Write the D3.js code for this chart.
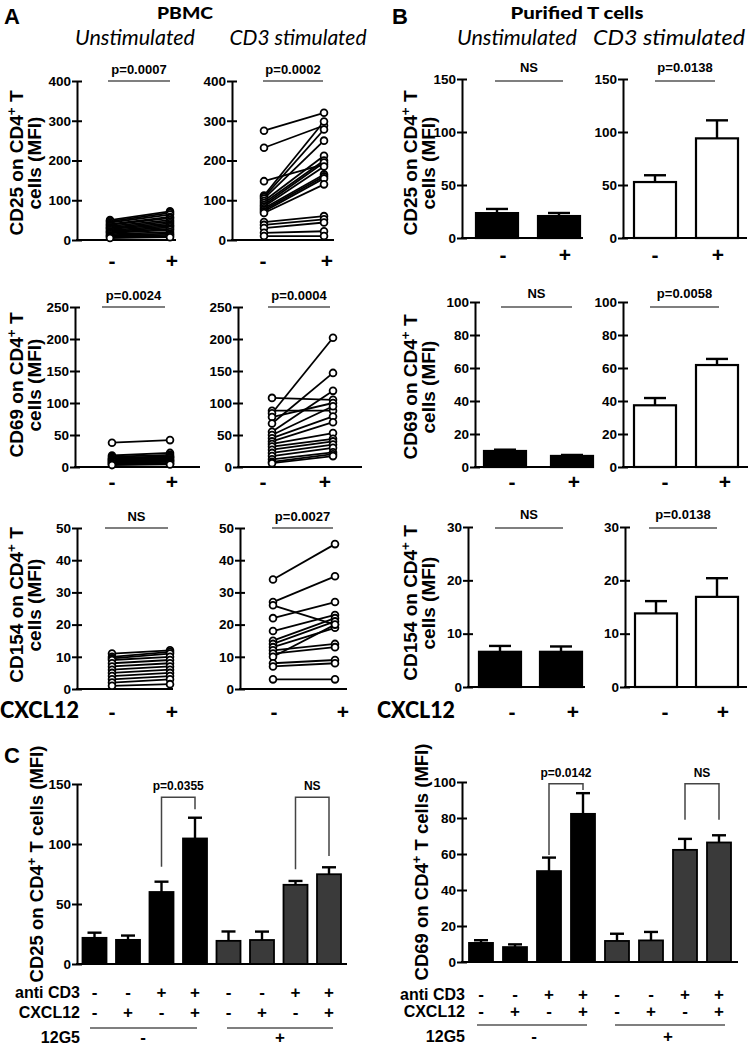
<!DOCTYPE html>
<html><head><meta charset="utf-8">
<script src="https://cdn.jsdelivr.net/npm/d3@7"></script>
<style>body{margin:0;background:#fff}svg{display:block}</style>
</head><body>
<script>
// ---------------- DATA ----------------
const signs = ["-", "+"];
// Panel A (PBMC) paired donor values, CXCL12 - / +
const cd25UnstimPre  = [50,47,44,40,38,35,32,30,28,25,22,20,18,15,12,10,8,5];
const cd25UnstimPost = [72,68,64,58,55,50,46,42,38,35,32,28,25,20,16,13,10,7];
const cd25StimPre    = [275,232,148,112,108,104,98,93,88,84,80,76,72,68,45,38,30,18,10];
const cd25StimPost   = [320,288,190,298,278,250,212,200,195,185,165,160,155,140,60,52,44,22,10];
const cd69UnstimPre  = [38,18,16,14,13,12,11,10,9,8,7,6,5,4,3];
const cd69UnstimPost = [42,22,19,17,16,15,14,12,11,10,9,8,6,5,4];
const cd69StimPre    = [108,88,84,78,68,55,50,45,40,36,32,27,22,17,12,8,6];
const cd69StimPost   = [105,88,202,100,147,119,95,79,70,53,44,40,35,30,23,20,17];
const cd154UnstimPre = [11,10,9.5,9,8,7,6,5,4,3,2,1];
const cd154UnstimPost= [12,11.5,11,10,9,8,7,6,5,4,3,1.5];
const cd154StimPre   = [34,27,26,22,18,15,14,13,12,11,10,8,7,3];
const cd154StimPost  = [45,35,20,27,23,22,21,19,14,13,20,9,8,3];
const statsA = ["p=0.0007","p=0.0002","p=0.0024","p=0.0004","NS","p=0.0027"];

// Panel B (purified T cells) mean and SEM, CXCL12 - / +
const cd25PurUnstimMean = [23.5, 20.7], cd25PurUnstimSem = [3.9, 2.9];
const cd25PurStimMean   = [52.8, 94.0], cd25PurStimSem   = [6.4, 17.0];
const cd69PurUnstimMean = [9.7, 6.7],   cd69PurUnstimSem = [0.8, 0.6];
const cd69PurStimMean   = [37.4, 61.8], cd69PurStimSem   = [4.4, 3.7];
const cd154PurUnstimMean= [6.6, 6.6],   cd154PurUnstimSem= [1.1, 1.0];
const cd154PurStimMean  = [13.8, 16.9], cd154PurStimSem  = [2.3, 3.5];
const statsB = ["NS","p=0.0138","NS","p=0.0058","NS","p=0.0138"];

// Panel C
const antiCD3 = ["-","-","+","+","-","-","+","+"];
const cxcl12  = ["-","+","-","+","-","+","-","+"];
const g12G5   = ["-","+"];
const cd25CMean = [21.8,20.1,60.0,104.6,19.3,20.0,66.0,74.8];
const cd25CSem  = [4.3,3.6,8.6,17.3,7.8,7.0,3.2,5.8];
const cd69CMean = [10.6,8.3,50.5,82.3,11.7,12.0,62.3,66.4];
const cd69CSem  = [1.5,1.5,7.5,11.5,4.0,4.7,6.1,4.0];
const statsC25 = ["p=0.0355","NS"];
const statsC69 = ["p=0.0142","NS"];

// ---------------- DRAW ----------------
const FA = "'Liberation Sans', Arial, sans-serif";
const FC = "Lato, 'Open Sans', sans-serif";
const svg = d3.select("body").append("svg").attr("width",750).attr("height",1047);

function txt(x,y,s,o={}){
  const t = svg.append("text").attr("x",x).attr("y",y).text(s)
    .attr("font-family",o.f||FA).attr("font-weight",o.w||"bold")
    .attr("font-size",o.size||14).attr("text-anchor",o.a||"middle").attr("fill","#000");
  if(o.italic) t.attr("font-style","italic");
  if(o.len) t.attr("textLength",o.len).attr("lengthAdjust","spacingAndGlyphs");
  return t;
}
function yLabel(x,cy,lines,size){
  const t = svg.append("text").attr("transform",`translate(${x},${cy}) rotate(-90)`)
    .attr("font-family",FA).attr("font-weight","bold").attr("font-size",size).attr("text-anchor","middle");
  lines.forEach((ln,i)=>{
    const sp = t.append("tspan").attr("x",0).attr("dy", i===0?0:18);
    ln.forEach(part=>{
      if(part.sup) sp.append("tspan").attr("baseline-shift","super").attr("font-size",size*0.7).text(part.sup);
      else sp.append("tspan").text(part.t);
    });
  });
}
function axes(cfg, y, ticks){
  const g = svg.append("g").attr("transform",`translate(${cfg.ax},0)`)
    .call(d3.axisLeft(y).tickValues(ticks).tickSize(5).tickSizeOuter(0).tickPadding(1));
  g.select(".domain").attr("stroke","#000").attr("stroke-width",2);
  g.selectAll(".tick line").attr("x1",5).attr("stroke","#000").attr("stroke-width",2);
  g.selectAll(".tick text").attr("font-family",FA).attr("font-weight","bold").attr("font-size",13.5).attr("fill","#000");
  svg.append("line").attr("x1",cfg.ax-1).attr("x2",cfg.xEnd).attr("y1",y(0)).attr("y2",y(0))
    .attr("stroke","#000").attr("stroke-width",2);
}
function statLine(x1,x2,y,label,dy,size){
  svg.append("line").attr("x1",x1).attr("x2",x2).attr("y1",y).attr("y2",y).attr("stroke","#555").attr("stroke-width",1.6);
  txt((x1+x2)/2, y-dy, label, {size:size||13});
}

// Panel A
const pairCfg = [
  {pre:cd25UnstimPre, post:cd25UnstimPost, max:400, step:100, ax:77, xEnd:176, top:81, y0:240, px:[110,170], line:[108,170]},
  {pre:cd25StimPre, post:cd25StimPost, max:400, step:100, ax:232, xEnd:334, top:81, y0:240, px:[264,324], line:[263,323]},
  {pre:cd69UnstimPre, post:cd69UnstimPost, max:250, step:50, ax:75, xEnd:200, top:307, y0:467, px:[112,170], line:[102,165]},
  {pre:cd69StimPre, post:cd69StimPost, max:250, step:50, ax:238, xEnd:362, top:307, y0:467, px:[272,333], line:[268,330]},
  {pre:cd154UnstimPre, post:cd154UnstimPost, max:50, step:10, ax:77, xEnd:173, top:528, y0:689, px:[112,170], line:[105,168]},
  {pre:cd154StimPre, post:cd154StimPost, max:50, step:10, ax:240, xEnd:347, top:528, y0:689, px:[273,335], line:[272,333]},
];
pairCfg.forEach((c,i)=>{
  const y = d3.scaleLinear().domain([0,c.max]).range([c.y0,c.top]);
  const x = d3.scalePoint().domain(signs).range(c.px);
  axes(c, y, d3.range(0,c.max+1,c.step));
  const pairs = c.pre.map((v,k)=>[v,c.post[k]]);
  const g = svg.append("g");
  g.selectAll("line.pl").data(pairs).join("line")
    .attr("x1",x("-")).attr("x2",x("+")).attr("y1",d=>y(d[0])).attr("y2",d=>y(d[1]))
    .attr("stroke","#000").attr("stroke-width",1.8);
  const pts = pairs.flatMap(d=>[{s:"-",v:d[0]},{s:"+",v:d[1]}]);
  g.selectAll("circle").data(pts).join("circle")
    .attr("cx",d=>x(d.s)).attr("cy",d=>y(d.v)).attr("r",3.4)
    .attr("fill","#fff").attr("stroke","#000").attr("stroke-width",1.8);
  statLine(c.line[0], c.line[1], y(c.max), statsA[i], 7);
});

// Panel B
const barCfg = [
  {m:cd25PurUnstimMean, s:cd25PurUnstimSem, fill:"#000", max:150, step:50, ax:462, xEnd:583, top:79, y0:238, bx:[497,559], line:[495,563], ly:81},
  {m:cd25PurStimMean, s:cd25PurStimSem, fill:"#fff", max:150, step:50, ax:623, xEnd:747, top:79, y0:238, bx:[655,717], line:[655,715], ly:81},
  {m:cd69PurUnstimMean, s:cd69PurUnstimSem, fill:"#000", max:100, step:20, ax:475, xEnd:591, top:302, y0:467, bx:[505,572], line:[501,572], ly:307},
  {m:cd69PurStimMean, s:cd69PurStimSem, fill:"#fff", max:100, step:20, ax:623, xEnd:748, top:302, y0:467, bx:[655,717], line:[650,719], ly:307},
  {m:cd154PurUnstimMean, s:cd154PurUnstimSem, fill:"#000", max:30, step:10, ax:468, xEnd:585, top:527, y0:687, bx:[500,561], line:[495,563], ly:528},
  {m:cd154PurStimMean, s:cd154PurStimSem, fill:"#fff", max:30, step:10, ax:625, xEnd:747, top:527, y0:687, bx:[656,717], line:[649,717], ly:528},
];
barCfg.forEach((c,i)=>{
  const y = d3.scaleLinear().domain([0,c.max]).range([c.y0,c.top]);
  const x = d3.scalePoint().domain(signs).range(c.bx);
  const bw = 42;
  const d = signs.map((s,k)=>({s, m:c.m[k], e:c.s[k]}));
  const g = svg.append("g");
  g.selectAll("line.eb").data(d).join("line").attr("x1",v=>x(v.s)).attr("x2",v=>x(v.s))
    .attr("y1",v=>y(v.m)).attr("y2",v=>y(v.m+v.e)).attr("stroke","#000").attr("stroke-width",2.4);
  g.selectAll("line.cap").data(d).join("line").attr("class","cap").attr("x1",v=>x(v.s)-11).attr("x2",v=>x(v.s)+11)
    .attr("y1",v=>y(v.m+v.e)).attr("y2",v=>y(v.m+v.e)).attr("stroke","#000").attr("stroke-width",2.4);
  g.selectAll("rect").data(d).join("rect").attr("x",v=>x(v.s)-bw/2).attr("width",bw)
    .attr("y",v=>y(v.m)).attr("height",v=>y(0)-y(v.m)).attr("fill",c.fill).attr("stroke","#000").attr("stroke-width",2.2);
  axes(c, y, d3.range(0,c.max+1,c.step));
  statLine(c.line[0], c.line[1], c.ly, statsB[i], 9);
});

// Titles & labels A/B
txt(12,24,"A",{size:22});
txt(400,24,"B",{size:22});
txt(185,19,"PBMC",{f:FC,size:17,w:"900",len:56});
txt(577,19,"Purified T cells",{f:FC,size:17,w:"900",len:133});
txt(135,45,"Unstimulated",{f:FC,w:"normal",italic:true,size:21,len:120});
txt(298,45,"CD3 stimulated",{f:FC,w:"normal",italic:true,size:21,len:137});
txt(517,45,"Unstimulated",{f:FC,w:"normal",italic:true,size:21,len:120});
txt(669,45,"CD3 stimulated",{f:FC,w:"normal",italic:true,size:21,len:152});

const lbl = (m)=>[[{t:m+" on CD4"},{sup:"+"},{t:" T"}],[{t:"cells (MFI)"}]];
yLabel(23,163,lbl("CD25"),19);
yLabel(23,385,lbl("CD69"),19);
yLabel(23,605,lbl("CD154"),19);
yLabel(417,163,lbl("CD25"),19);
yLabel(417,387,lbl("CD69"),19);
yLabel(417,603,lbl("CD154"),19);

// sign rows
const signRows = [
  {y:268, xs:[112,172,263,327]}, {y:489, xs:[112,172,263,325]}, {y:719, xs:[112,172,274,343]},
  {y:262, xs:[503,565,655,718]}, {y:489, xs:[512,574,665,725]}, {y:719, xs:[512,573,665,723]},
];
signRows.forEach(r=>r.xs.forEach((x,k)=>txt(x,r.y,signs[k%2],{size:21})));
txt(0,718,"CXCL12",{f:FC,size:22,a:"start",w:"900",len:79});
txt(377,718,"CXCL12",{f:FC,size:22,a:"start",w:"900",len:78});

// Panel C
const cCfg = [
  {m:cd25CMean, s:cd25CSem, stats:statsC25, max:150, step:50, ax:77, xEnd:347, top:784, y0:964, range:[94.5,329],
   br:[{a:2,b:3,top:139,l:81,r:129},{a:6,b:7,top:139,l:79,r:90}],
   rows:[998,1018,1043], gl:1028, groups:[[90,197],[227,333]], gx:[143,280], lx:80, lab:"CD25", labX:43},
  {m:cd69CMean, s:cd69CSem, stats:statsC69, max:100, step:20, ax:462, xEnd:738, top:782, y0:962, range:[481,719],
   br:[{a:2,b:3,top:99,l:59.5,r:95.5},{a:6,b:7,top:99,l:79,r:79}],
   rows:[1000,1017,1042], gl:1025, groups:[[477,587],[615,725]], gx:[534,668], lx:465, lab:"CD69", labX:428},
];
cCfg.forEach(c=>{
  const y = d3.scaleLinear().domain([0,c.max]).range([c.y0,c.top]);
  const x = d3.scalePoint().domain(d3.range(8)).range(c.range);
  const bw = 24;
  const d = c.m.map((m,k)=>({k,m,e:c.s[k]}));
  const g = svg.append("g");
  g.selectAll("line.eb").data(d).join("line").attr("x1",v=>x(v.k)).attr("x2",v=>x(v.k))
    .attr("y1",v=>y(v.m)).attr("y2",v=>y(v.m+v.e)).attr("stroke","#000").attr("stroke-width",2.4);
  g.selectAll("line.cap").data(d).join("line").attr("class","cap").attr("x1",v=>x(v.k)-7).attr("x2",v=>x(v.k)+7)
    .attr("y1",v=>y(v.m+v.e)).attr("y2",v=>y(v.m+v.e)).attr("stroke","#000").attr("stroke-width",2.4);
  g.selectAll("rect").data(d).join("rect").attr("x",v=>x(v.k)-bw/2).attr("width",bw)
    .attr("y",v=>y(v.m)).attr("height",v=>y(0)-y(v.m)).attr("fill",v=>v.k<4?"#000":"#3a3a3a")
    .attr("stroke","#000").attr("stroke-width",1.8);
  axes(c, y, d3.range(0,c.max+1,c.step));
  c.br.forEach((b,i)=>{
    const x1=x(b.a), x2=x(b.b);
    svg.append("path").attr("d",`M${x1},${y(b.l)}V${y(b.top)}H${x2}V${y(b.r)}`)
      .attr("fill","none").attr("stroke","#444").attr("stroke-width",1.5);
    txt((x1+x2)/2, y(b.top)-7, c.stats[i], {size:12});
  });
  // row labels
  const fs = 16;
  txt(c.lx, c.rows[0], "anti CD3", {size:fs, a:"end"});
  txt(c.lx, c.rows[1], "CXCL12", {size:fs, a:"end"});
  txt(c.lx, c.rows[2], "12G5", {size:fs, a:"end"});
  antiCD3.forEach((s,k)=>txt(x(k), c.rows[0], s, {size:17}));
  cxcl12.forEach((s,k)=>txt(x(k), c.rows[1], s, {size:17}));
  c.groups.forEach(gr=>svg.append("line").attr("x1",gr[0]).attr("x2",gr[1]).attr("y1",c.gl).attr("y2",c.gl)
    .attr("stroke","#555").attr("stroke-width",1.3));
  g12G5.forEach((s,k)=>txt(c.gx[k], c.rows[2], s, {size:17}));
  yLabel(c.labX, (c.top+c.y0)/2 - 10, [[{t:c.lab+" on CD4"},{sup:"+"},{t:" T cells (MFI)"}]], 18.5);
});
txt(12,763,"C",{size:22});
</script>
</body></html>
